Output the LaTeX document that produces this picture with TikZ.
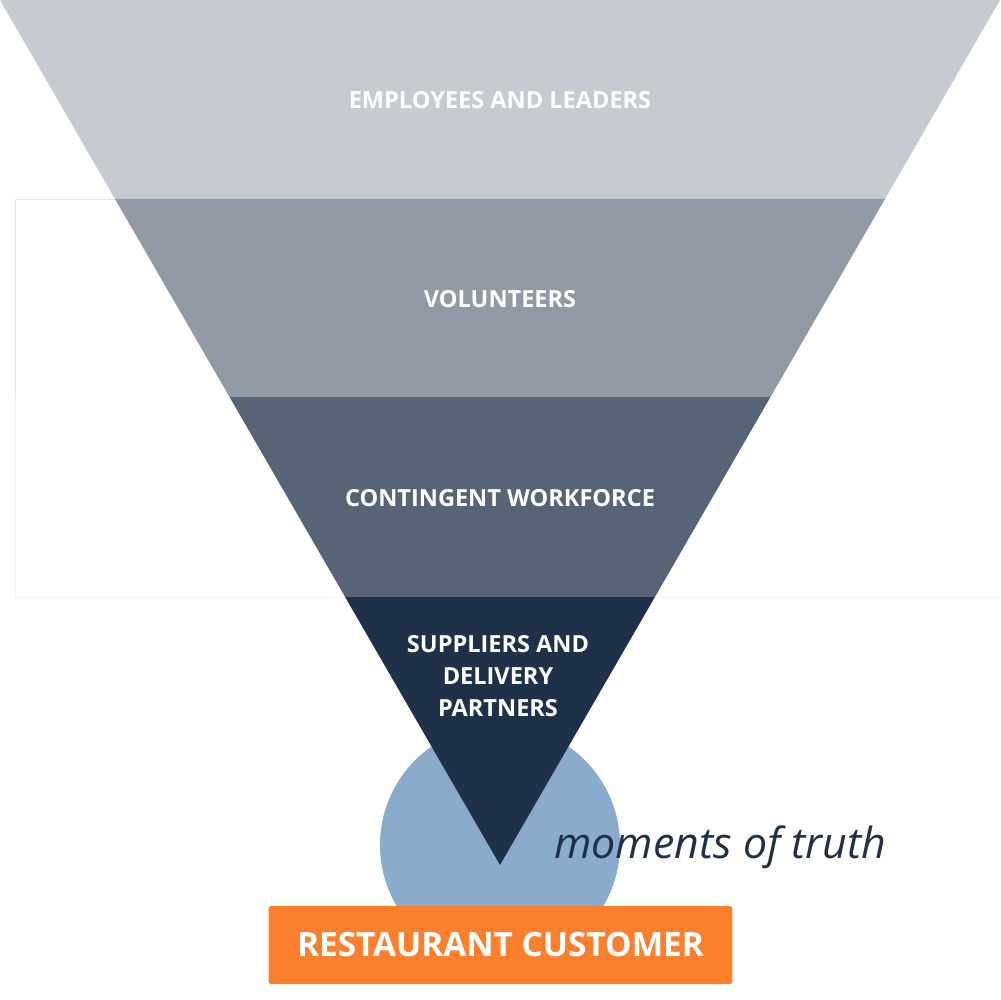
\documentclass[tikz,border=0pt]{standalone}
\usepackage{fontspec}
\setmainfont{Open Sans}
\usepackage{xcolor}
\usepackage{tikz}
\definecolor{bandone}{HTML}{C6CBD2}
\definecolor{bandtwo}{HTML}{9199A4}
\definecolor{bandthree}{HTML}{566476}
\definecolor{bandfour}{HTML}{1F3049}
\definecolor{truthblue}{HTML}{8AABCB}
\definecolor{custorange}{HTML}{FC7F2D}
\tikzset{
  bandlabel/.style={text=white, align=center, font=\bfseries\fontsize{13.4}{18.3}\selectfont},
  custbox/.style={fill=custorange, rounded corners=1.5pt, minimum width=9.28cm, minimum height=1.56cm, text=white, font=\bfseries\fontsize{19}{22}\selectfont}
}

\begin{document}
\begin{tikzpicture}[x=0.02cm, y=-0.02cm]
        \useasboundingbox (0,0) rectangle (1000,1000);
        % faint frame behind the funnel
        \draw[black!10] (115,199) -- (15,199) -- (15,397);
        \draw[black!5] (15,397) -- (15,597) -- (1000,597);
        \fill[truthblue] (500,845) circle (120);
        % funnel bands
        \fill[bandone] (0,0) -- (1000,0) -- (885,199) -- (115,199) -- cycle;
        \fill[bandtwo] (115,199) -- (885,199) -- (770.5,397) -- (229.5,397) -- cycle;
        \fill[bandthree] (229.5,397) -- (770.5,397) -- (654.9,597) -- (345.1,597) -- cycle;
        \fill[bandfour] (345.1,597) -- (654.9,597) -- (500,865) -- cycle;
        \node[bandlabel] (employees) at (500,100) {EMPLOYEES AND LEADERS};
        \node[bandlabel] (volunteers) at (500,299) {VOLUNTEERS};
        \node[bandlabel] (contingent) at (500,498) {CONTINGENT WORKFORCE};
        \node[bandlabel] (suppliers) at (498,676) {SUPPLIERS AND\\DELIVERY\\PARTNERS};
        \node[anchor=base west, inner sep=0pt, text=bandfour, font=\itshape\fontsize{24.4}{27}\selectfont] (truth) at (554,858) {moments of truth};
        \node[custbox] (customer) at (500.5,945) {RESTAURANT CUSTOMER};
    \end{tikzpicture}
\end{document}
